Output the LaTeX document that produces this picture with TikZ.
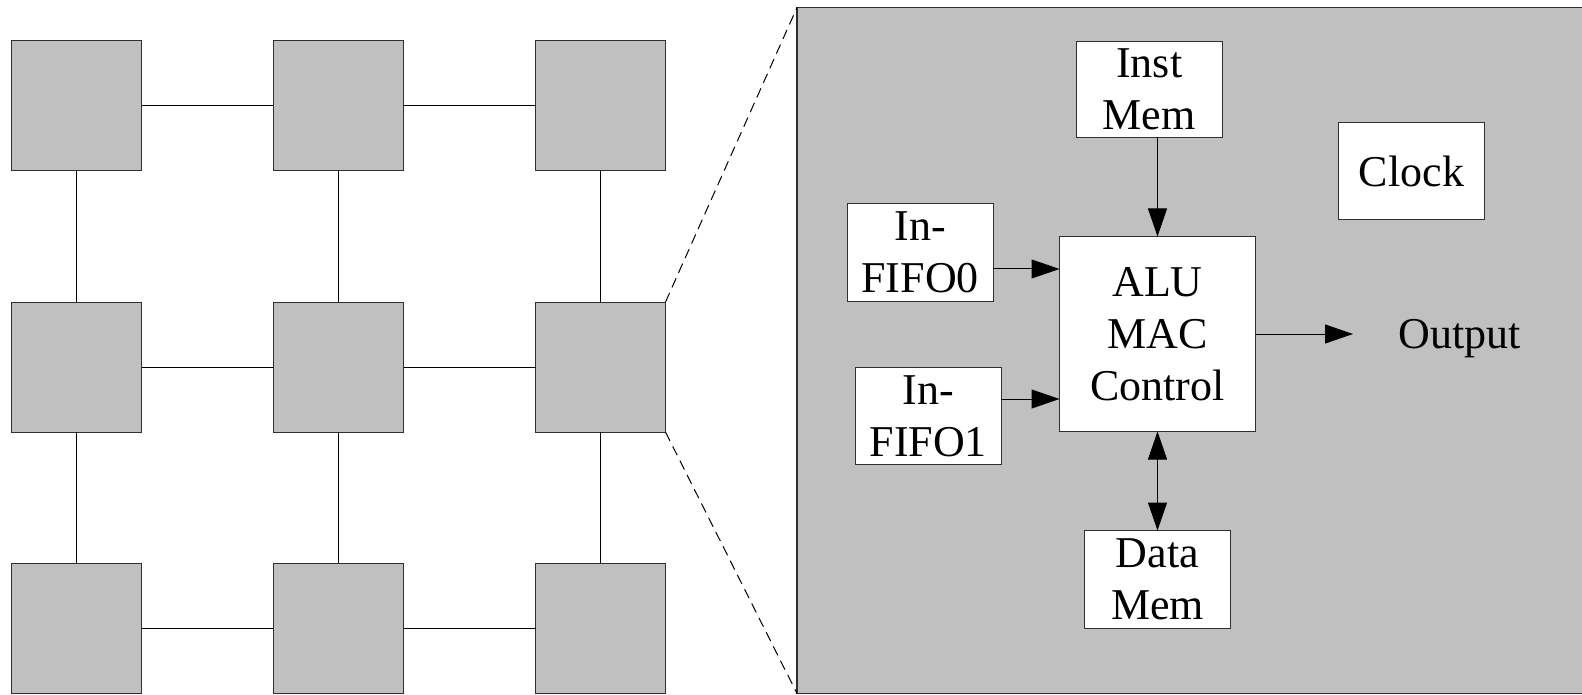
\documentclass[tikz,border=0pt]{standalone}
\usepackage{fontspec}
\setmainfont{Liberation Serif}
\usetikzlibrary{arrows.meta,calc}

\definecolor{pegray}{HTML}{C0C0C0}
\definecolor{edgegray}{HTML}{303030}

\tikzset{
  tile/.style={draw=edgegray, fill=pegray, line width=1pt,
    minimum width=130pt, minimum height=130pt, inner sep=0pt, outer sep=0pt},
  link/.style={draw=black, line width=1pt},
  zoomline/.style={draw=black, line width=1pt, dash pattern=on 10pt off 6pt},
  unit/.style={draw=edgegray, fill=white, line width=1pt, align=center,
    inner sep=0pt, outer sep=0pt, font=\fontsize{44}{52}\selectfont},
  flow/.style={draw=black, line width=1pt, -{Triangle[length=28pt,width=19pt]}},
  bothflow/.style={draw=black, line width=1pt,
    {Triangle[length=28pt,width=19pt]}-{Triangle[length=28pt,width=19pt]}},
}

\begin{document}
\begin{tikzpicture}[x=1pt,y=-1pt]
\useasboundingbox (0,0) rectangle (1582,695);

% 3x3 array of processing elements
\foreach \r/\y in {1/105.5, 2/367, 3/628}{
  \foreach \c/\x in {1/76.5, 2/338.5, 3/600.5}{
    \node[tile] (g\r\c) at (\x,\y) {};
  }
}
% mesh links
\foreach \r in {1,2,3}{
  \draw[link] (g\r1) -- (g\r2);
  \draw[link] (g\r2) -- (g\r3);
}
\foreach \c in {1,2,3}{
  \draw[link] (g1\c) -- (g2\c);
  \draw[link] (g2\c) -- (g3\c);
}

% enlarged processing element
\node[draw=edgegray, fill=pegray, line width=1.3pt, inner sep=0pt, outer sep=0pt,
      minimum width=796pt, minimum height=686pt] (pe) at (1195,350.5) {};
\draw[zoomline] (g23.north east) -- (pe.north west);
\draw[zoomline] (g23.south east) -- (pe.south west);

% internal blocks
\node[unit, minimum width=146pt, minimum height=96pt] (inst) at (1149.3,89.2) {Inst\\Mem};
\node[unit, minimum width=146pt, minimum height=98pt] (fifo0) at (920.2,252.3) {In-\\FIFO0};
\node[unit, minimum width=146pt, minimum height=97pt] (fifo1) at (928.3,416) {In-\\FIFO1};
\node[unit, minimum width=196pt, minimum height=195pt] (alu) at (1157.5,334) {ALU\\MAC\\Control};
\node[unit, minimum width=146pt, minimum height=98pt] (data) at (1157.5,579.5) {Data\\Mem};
\node[unit, minimum width=146pt, minimum height=97pt] (clock) at (1411.5,171) {Clock};
\node[anchor=base, inner sep=0pt, font=\fontsize{44}{52}\selectfont] (out) at (1460,348) {Output};

% data paths
\coordinate (in0) at ($(alu.north west)!1/6!(alu.south west)$);
\coordinate (in1) at ($(alu.north west)!5/6!(alu.south west)$);
\coordinate (outend) at (1353,334);
\draw[flow] (alu.north |- inst.south) -- (alu.north);
\draw[flow] (fifo0.east |- in0) -- (in0);
\draw[flow] (fifo1.east |- in1) -- (in1);
\draw[flow] (alu.east) -- (outend);
\draw[bothflow] (alu.south) -- (data.north);
\end{tikzpicture}
\end{document}
